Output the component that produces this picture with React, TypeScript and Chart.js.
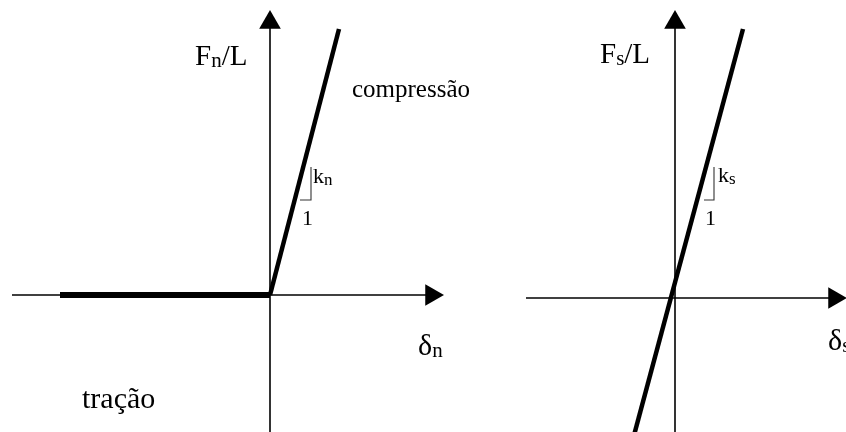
import React, { useEffect, useRef } from "react";
import { Chart, registerables } from "chart.js";

Chart.register(...registerables);

// ---- Normal law (left diagram): delta_n vs F_n/L ----
const normalAxisH = [{ x: -2.58, y: 0 }, { x: 1.6, y: 0 }];
const normalAxisV = [{ x: 0, y: -1.4 }, { x: 0, y: 2.75 }];
const normalArrowHeads = [{ x: 1.615, y: 0 }, { x: 0, y: 2.725 }];
const normalArrowRotation = [90, 0];
const normalTension = [{ x: -2.1, y: 0 }, { x: 0, y: 0 }];
const normalCompression = [{ x: 0, y: 0 }, { x: 0.69, y: 2.66 }];
const normalSlopeMark = [{ x: 0.41, y: 1.28 }, { x: 0.41, y: 0.95 }, { x: 0.3, y: 0.95 }];

// ---- Shear law (right diagram): delta_s vs F_s/L ----
const shearAxisH = [{ x: -1.49, y: 0 }, { x: 1.6, y: 0 }];
const shearAxisV = [{ x: 0, y: -1.4 }, { x: 0, y: 2.75 }];
const shearArrowHeads = [{ x: 1.595, y: 0 }, { x: 0, y: 2.755 }];
const shearArrowRotation = [90, 0];
const shearLaw = [{ x: -0.42, y: -1.41 }, { x: 0.68, y: 2.69 }];
const shearSlopeMark = [{ x: 0.39, y: 1.31 }, { x: 0.39, y: 0.98 }, { x: 0.29, y: 0.98 }];

// ---- Text labels: main text, subscript, suffix, position (left, baseline) ----
type Label = { side: "L" | "R"; main: string; sub: string; tail: string; x: number; y: number; size: number; subSize: number; subDrop: number };
const labels: Label[] = [
  { side: "L", main: "F", sub: "n", tail: "/L", x: -0.75, y: 2.3, size: 29, subSize: 21, subDrop: 2 },
  { side: "L", main: "compressão", sub: "", tail: "", x: 0.82, y: 1.98, size: 25, subSize: 0, subDrop: 0 },
  { side: "L", main: "k", sub: "n", tail: "", x: 0.43, y: 1.12, size: 22, subSize: 17, subDrop: 2 },
  { side: "L", main: "1", sub: "", tail: "", x: 0.32, y: 0.7, size: 22, subSize: 0, subDrop: 0 },
  { side: "L", main: "δ", sub: "n", tail: "", x: 1.48, y: -0.6, size: 30, subSize: 21, subDrop: 2 },
  { side: "L", main: "tração", sub: "", tail: "", x: -1.88, y: -1.13, size: 30, subSize: 0, subDrop: 0 },
  { side: "R", main: "F", sub: "s", tail: "/L", x: -0.75, y: 2.35, size: 29, subSize: 21, subDrop: 2 },
  { side: "R", main: "k", sub: "s", tail: "", x: 0.43, y: 1.16, size: 22, subSize: 17, subDrop: 2 },
  { side: "R", main: "1", sub: "", tail: "", x: 0.3, y: 0.73, size: 22, subSize: 0, subDrop: 0 },
  { side: "R", main: "δ", sub: "s", tail: "", x: 1.53, y: -0.52, size: 30, subSize: 21, subDrop: 2 },
];

const FONT = '"Liberation Serif", "Times New Roman", serif';

const labelPlugin = {
  id: "diagramLabels",
  afterDatasetsDraw(chart: any) {
    const ctx = chart.ctx;
    ctx.save();
    ctx.fillStyle = "#000";
    ctx.textBaseline = "alphabetic";
    ctx.textAlign = "left";
    for (const l of labels) {
      const xs = chart.scales[l.side === "L" ? "xL" : "xR"];
      const ys = chart.scales[l.side === "L" ? "yL" : "yR"];
      let px = xs.getPixelForValue(l.x);
      const py = ys.getPixelForValue(l.y);
      ctx.font = `${l.size}px ${FONT}`;
      ctx.fillText(l.main, px, py);
      px += ctx.measureText(l.main).width;
      if (l.sub) {
        ctx.font = `${l.subSize}px ${FONT}`;
        ctx.fillText(l.sub, px, py + l.subDrop);
        px += ctx.measureText(l.sub).width;
      }
      if (l.tail) {
        ctx.font = `${l.size}px ${FONT}`;
        ctx.fillText(l.tail, px, py);
      }
    }
    ctx.restore();
  },
};

function lineSet(data: any[], xAxisID: string, yAxisID: string, width: number, color = "#000") {
  return {
    data,
    xAxisID,
    yAxisID,
    showLine: true,
    borderColor: color,
    backgroundColor: color,
    borderWidth: width,
    pointRadius: 0,
    borderCapStyle: "butt",
    borderJoinStyle: "miter",
    clip: false,
  };
}

function arrowSet(data: any[], rot: number[], xAxisID: string, yAxisID: string) {
  return {
    data,
    xAxisID,
    yAxisID,
    showLine: false,
    pointStyle: "triangle",
    pointRotation: rot,
    pointRadius: 12.5,
    pointBorderWidth: 0,
    pointBackgroundColor: "#000",
    pointBorderColor: "#000",
    clip: false,
  };
}

export default function App() {
  const ref = useRef<HTMLCanvasElement | null>(null);
  useEffect(() => {
    if (!ref.current) return;
    const chart = new Chart(ref.current, {
      type: "scatter",
      data: {
        datasets: [
          lineSet(normalAxisH, "xL", "yL", 1.6),
          lineSet(normalAxisV, "xL", "yL", 1.6),
          arrowSet(normalArrowHeads, normalArrowRotation, "xL", "yL"),
          lineSet(normalTension, "xL", "yL", 6),
          lineSet(normalCompression, "xL", "yL", 4.5),
          lineSet(normalSlopeMark, "xL", "yL", 1.1, "#333"),
          lineSet(shearAxisH, "xR", "yR", 1.6),
          lineSet(shearAxisV, "xR", "yR", 1.6),
          arrowSet(shearArrowHeads, shearArrowRotation, "xR", "yR"),
          lineSet(shearLaw, "xR", "yR", 4.5),
          lineSet(shearSlopeMark, "xR", "yR", 1.1, "#333"),
        ] as any,
      },
      options: {
        animation: false,
        responsive: false,
        maintainAspectRatio: false,
        layout: { padding: 0, autoPadding: false },
        events: [],
        plugins: { legend: { display: false }, tooltip: { enabled: false } },
        scales: {
          xL: { type: "linear", display: false, min: -2.7, max: 5.76 },
          yL: { type: "linear", display: false, min: -1.37, max: 2.95 },
          xR: { type: "linear", display: false, min: -6.75, max: 1.71 },
          yR: { type: "linear", display: false, min: -1.34, max: 2.98 },
        },
      },
      plugins: [labelPlugin],
    });
    return () => chart.destroy();
  }, []);
  return (
    <div style={{ position: "absolute", left: 0, top: 0, width: 846, height: 432, background: "#fff" }}>
      <canvas ref={ref} width={846} height={432} style={{ display: "block" }} />
    </div>
  );
}
